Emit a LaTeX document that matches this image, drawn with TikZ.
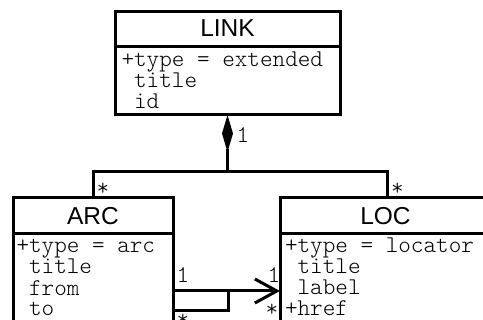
\documentclass[tikz,border=0pt]{standalone}
\usepackage{fontspec}
\usetikzlibrary{arrows.meta}
\newfontfamily\umlsans{Liberation Sans}
\newfontfamily\umlmono{lmmonolt10-regular.otf}
\begin{document}
\begin{tikzpicture}[x=1pt,y=-1pt,line width=3pt,
  classbox/.style={draw,rectangle,inner sep=0pt,outer sep=0pt,anchor=north west},
  classname/.style={font=\umlsans\fontsize{24.5}{24.5}\selectfont,inner sep=0pt},
  attr/.style={font=\umlmono\fontsize{24}{24}\selectfont,inner sep=0pt,anchor=base west},
  mult/.style={font=\umlmono\fontsize{24}{24}\selectfont,inner sep=0pt,anchor=base west},
  conn/.style={line width=3pt},
  composite/.style={conn,{Diamond[length=37pt,width=11pt,line width=0pt]}-},
  navigable/.style={conn,-{Straight Barb[length=22pt,width=24pt]}}]
\useasboundingbox (0,0) rectangle (483,320);

% LINK class
\node[classbox,minimum width=225pt,minimum height=35pt] (linkhead) at (115,12) {};
\node[classbox,minimum width=225pt,minimum height=68pt] (linkbody) at (115,47) {};
\node[classname,yshift=1.5pt] (linkname) at (linkhead.center) {LINK};
\node[attr] (linka1) at (120,67) {+type = extended};
\node[attr] (linka2) at (120,88) {\phantom{+}title};
\node[attr] (linka3) at (120,108.5) {\phantom{+}id};

% ARC class
\node[classbox,minimum width=160pt,minimum height=36pt] (archead) at (13,198) {};
\node[classbox,minimum width=160pt,minimum height=120pt] (arcbody) at (13,234) {};
\node[classname] (arcname) at (archead.center) {ARC};
\node[attr] (arca1) at (15,253) {+type = arc};
\node[attr] (arca2) at (15,274) {\phantom{+}title};
\node[attr] (arca3) at (15,295.5) {\phantom{+}from};
\node[attr] (arca4) at (15,316) {\phantom{+}to};

% LOC class
\node[classbox,minimum width=214pt,minimum height=36pt] (lochead) at (280,198) {};
\node[classbox,minimum width=214pt,minimum height=120pt] (locbody) at (280,234) {};
\node[classname] (locname) at ([xshift=-1.5pt]lochead.center) {LOC};
\node[attr] (loca1) at (283.5,253) {+type = locator};
\node[attr] (loca2) at (283.5,273.5) {\phantom{+}title};
\node[attr] (loca3) at (283.5,295) {\phantom{+}label};
\node[attr] (loca4) at (283.5,316) {+href};

% composition of LINK into ARC and LOC
\path (linkbody.south) ++(0,57) coordinate (hub);
\draw[composite] (linkbody.south) -- (hub);
\draw[conn] (hub) -| (archead.north);
\draw[conn] (hub) -| (lochead.north);

% ARC references LOC
\path (arcbody.north east) ++(0,57) coordinate (aout);
\path (arcbody.north east) ++(0,77) coordinate (lout);
\draw[navigable] (aout) -- (aout -| locbody.west);
\draw[conn] (lout) -| ([xshift=55pt]aout);

% multiplicities
\node[mult] (mlink) at (235,143) {1};
\node[mult] (marc) at (95,196) {*};
\node[mult] (mloc) at (389.5,196) {*};
\node[mult] (marcfrom) at (175,283) {1};
\node[mult] (marcto) at (175,327) {*};
\node[mult] (mlocto) at (266,283) {1};
\node[mult] (mlocfrom) at (264,317) {*};
\end{tikzpicture}
\end{document}
